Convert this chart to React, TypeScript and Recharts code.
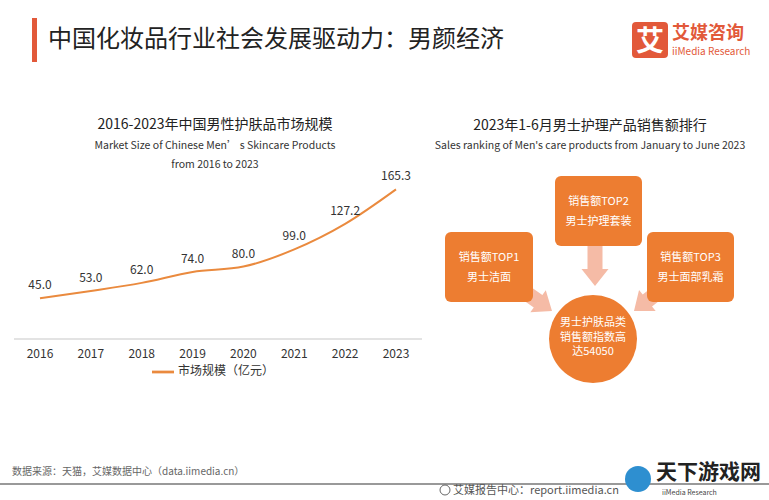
import { LineChart, Line, XAxis, YAxis, Legend, LabelList } from 'recharts'

const years = ['2016', '2017', '2018', '2019', '2020', '2021', '2022', '2023']
const marketSize = [45.0, 53.0, 62.0, 74.0, 80.0, 99.0, 127.2, 165.3]
const seriesName = '市场规模（亿元）'

const rankTitles = ['销售额TOP1', '销售额TOP2', '销售额TOP3']
const rankItems = ['男士洁面', '男士护理套装', '男士面部乳霜']
const centerLines = ['男士护肤品类', '销售额指数高', '达54050']

const FONT = '"Noto Sans CJK SC", "Noto Sans", sans-serif'
const ORANGE = '#ED7D31'
const LINE = '#EA8A3E'
const ARROW = '#F5BBA6'
const BRAND = '#E2593A'

const chartData = years.map((y, i) => ({ year: y, value: marketSize[i] }))

// layout of the ranking diagram
const boxes = [
  { x: 445, y: 232, w: 88, h: 70 },
  { x: 555, y: 176, w: 87, h: 70 },
  { x: 647, y: 232, w: 87, h: 70 },
]
const circle = { cx: 593, cy: 339, r: 44 }

function arrow(x1: number, y1: number, x2: number, y2: number, shaft = 15, head = 27, headLen = 17) {
  const dx = x2 - x1, dy = y2 - y1
  const len = Math.hypot(dx, dy)
  const ux = dx / len, uy = dy / len
  const nx = -uy, ny = ux
  const bx = x2 - ux * headLen, by = y2 - uy * headLen
  const p = (x: number, y: number, k: number) => `${x + nx * k},${y + ny * k}`
  return [
    p(x1, y1, shaft / 2), p(bx, by, shaft / 2), p(bx, by, head / 2),
    `${x2},${y2}`,
    p(bx, by, -head / 2), p(bx, by, -shaft / 2), p(x1, y1, -shaft / 2),
  ].join(' ')
}

function Decor() {
  return (
    <svg width={769} height={500} style={{ position: 'absolute', left: 0, top: 0, fontFamily: FONT }}>
      {/* header */}
      <rect x={32} y={18} width={5} height={44} fill={BRAND} />
      <text x={48} y={47} fontSize={24} fill="#222">中国化妆品行业社会发展驱动力：男颜经济</text>
      <rect x={632} y={22} width={36} height={36} rx={4} fill={BRAND} />
      <text x={650} y={51} fontSize={28} fontWeight="bold" fill="#fff" textAnchor="middle">艾</text>
      <text x={672} y={39} fontSize={18} fontWeight="bold" fill={BRAND}>艾媒咨询</text>
      <text x={672} y={55} fontSize={10} fill={BRAND}>iiMedia Research</text>

      {/* left titles */}
      <text x={215} y={129} fontSize={14} fill="#222" textAnchor="middle">2016-2023年中国男性护肤品市场规模</text>
      <text x={215} y={149} fontSize={10.5} fill="#333" textAnchor="middle">Market Size of Chinese Men’ s Skincare Products</text>
      <text x={215} y={168} fontSize={10.5} fill="#333" textAnchor="middle">from 2016 to 2023</text>

      {/* right titles */}
      <text x={590} y={130} fontSize={14} fill="#222" textAnchor="middle">2023年1-6月男士护理产品销售额排行</text>
      <text x={590} y={149} fontSize={10.5} fill="#333" textAnchor="middle">Sales ranking of Men's care products from January to June 2023</text>

      {/* arrows */}
      <polygon points={arrow(595, 230, 595, 286)} fill={ARROW} />
      <polygon points={arrow(489, 267, 552, 311)} fill={ARROW} />
      <polygon points={arrow(690, 267, 634, 311)} fill={ARROW} />

      {boxes.map((b, i) => (
        <g key={i}>
          <rect x={b.x} y={b.y} width={b.w} height={b.h} rx={6} fill={ORANGE} />
          <text x={b.x + b.w / 2} y={b.y + 29} fontSize={11} fill="#fff" textAnchor="middle">{rankTitles[i]}</text>
          <text x={b.x + b.w / 2} y={b.y + 49} fontSize={11} fill="#fff" textAnchor="middle">{rankItems[i]}</text>
        </g>
      ))}
      <circle cx={circle.cx} cy={circle.cy} r={circle.r} fill={ORANGE} />
      {centerLines.map((t, i) => (
        <text key={i} x={circle.cx} y={circle.cy - 13 + i * 14.5} fontSize={11} fill="#fff" textAnchor="middle">{t}</text>
      ))}

      {/* footer */}
      <text x={12} y={475} fontSize={10} fill="#666">数据来源：天猫，艾媒数据中心（data.iimedia.cn）</text>
      <rect x={0} y={483} width={769} height={2} fill="#999" />
      <circle cx={445} cy={490} r={5} fill="none" stroke="#666" strokeWidth={1} />
      <text x={453} y={494} fontSize={11} fill="#555">艾媒报告中心：report.iimedia.cn</text>
      <circle cx={638} cy={479} r={13} fill="#2E8FD0" />
      <text x={656} y={479} fontSize={21} fontWeight="bold" fill="#222">天下游戏网</text>
      <text x={662} y={495} fontSize={7} fill="#444">iiMedia Research</text>
    </svg>
  )
}

export default function App() {
  return (
    <div style={{ position: 'absolute', left: 0, top: 0, width: 769, height: 500, background: '#fff', fontFamily: FONT }}>
      <Decor />
      <div style={{ position: 'absolute', left: 0, top: 0 }}>
        <LineChart width={431} height={381} data={chartData} margin={{ top: 158, right: 9, bottom: 0, left: 14 }}>
          <XAxis
            dataKey="year"
            axisLine={{ stroke: '#E3E3E3', strokeWidth: 2 }}
            tickLine={false}
            tickMargin={4}
            height={22}
            padding={{ left: 26, right: 26 }}
            tick={{ fontSize: 12, fill: '#333', fontFamily: FONT }}
          />
          <YAxis hide domain={[0, 200]} />
          <Legend
            verticalAlign="bottom"
            height={20}
            iconType="plainline"
            iconSize={22}
            wrapperStyle={{ fontSize: 12, fontFamily: FONT }}
            formatter={(v: string) => <span style={{ color: '#333' }}>{v}</span>}
          />
          <Line
            type="monotone"
            dataKey="value"
            name={seriesName}
            stroke={LINE}
            strokeWidth={2}
            dot={false}
            activeDot={false}
            isAnimationActive={false}
          >
            <LabelList dataKey="value" position="top" offset={9} formatter={(v: number) => v.toFixed(1)} style={{ fontSize: 12, fill: '#333', fontFamily: FONT }} />
          </Line>
        </LineChart>
      </div>
    </div>
  )
}
